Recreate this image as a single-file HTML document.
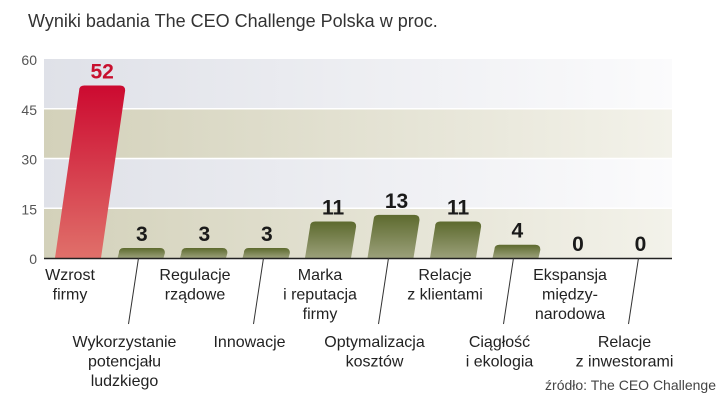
<!DOCTYPE html>
<html><head><meta charset="utf-8"><style>
body{margin:0;background:#fff;}
svg{display:block;font-family:"Liberation Sans",sans-serif;}
</style></head><body>
<svg width="720" height="408" viewBox="0 0 720 408">
<defs>
<linearGradient id="gBlue" x1="0" x2="1"><stop offset="0" stop-color="#dfe1e8"/><stop offset="1" stop-color="#fbfbfc"/></linearGradient>
<linearGradient id="gTan" x1="0" x2="1"><stop offset="0" stop-color="#d3d1ba"/><stop offset="1" stop-color="#f3f2ea"/></linearGradient>
<linearGradient id="gRed" x1="0" x2="0" y1="0" y2="1"><stop offset="0" stop-color="#cc0a30"/><stop offset="1" stop-color="#e0706a"/></linearGradient>
<linearGradient id="gOl" x1="0" x2="0" y1="0" y2="1"><stop offset="0" stop-color="#5d6a2e"/><stop offset="1" stop-color="#9ba07a"/></linearGradient>
</defs>
<text x="28" y="27" font-size="18" fill="#333">Wyniki badania The CEO Challenge Polska w proc.</text>
<g id="bands"></g>
<g id="yticks"></g>
<g id="bars"></g>
<line x1="44" y1="258.5" x2="672" y2="258.5" stroke="#222" stroke-width="1.5"/>
<g id="labels"></g>
<text x="716" y="390" font-size="14" fill="#444" text-anchor="end">źródło: The CEO Challenge</text>
</svg>
<script>
const categories=[["Wzrost","firmy"],["Wykorzystanie","potencjału","ludzkiego"],["Regulacje","rządowe"],["Innowacje"],["Marka","i reputacja","firmy"],["Optymalizacja","kosztów"],["Relacje","z klientami"],["Ciągłość","i ekologia"],["Ekspansja","między-","narodowa"],["Relacje","z inwestorami"]];
const values=[52,3,3,3,11,13,11,4,0,0];
const yTicks=[0,15,30,45,60];
const NS="http://www.w3.org/2000/svg";
const x0=44,x1=672,yB=258,yT=59;
function y(v){return yB-(yB-yT)*v/60;}
function cx(i){return 78+62.5*i;}
function mk(t,a,p){const e=document.createElementNS(NS,t);for(const k in a)e.setAttribute(k,a[k]);p.appendChild(e);return e;}
const bands=document.getElementById('bands');
for(let k=0;k<yTicks.length-1;k++){
 const r=mk('rect',{x:x0,y:y(yTicks[k+1]),width:x1-x0,height:y(yTicks[k])-y(yTicks[k+1]),fill:k%2==0?'url(#gTan)':'url(#gBlue)'},bands);
 
 
}
const yt=document.getElementById('yticks');
yTicks.forEach(v=>{
 if(v>0&&v<60){const l=mk('line',{x1:x0,x2:x1,y1:y(v),y2:y(v),stroke:'#fff','stroke-width':1.5},yt);
 
 }
 const t=mk('text',{x:37,y:y(v)+6,'font-size':14,fill:'#555','text-anchor':'end'},yt);t.textContent=v;
 
 
});
const bars=document.getElementById('bars');
const labels=document.getElementById('labels');
values.forEach((v,i)=>{
 const c=cx(i),w=46,top=y(v),h=yB-top,sk=h*0.14;
 if(v>0){
  const bl=c-w/2,br=c+w/2,tl=bl+sk,tr=br+sk,r=Math.min(5,h/2);
  const d=`M${bl},${yB} L${tl},${top+r} Q${tl},${top} ${tl+r},${top} L${tr-r},${top} Q${tr},${top} ${tr},${top+r} L${br},${yB} Z`;
  const p=mk('path',{d:d,fill:i==0?'url(#gRed)':'url(#gOl)'},bars);
  
  
 }
 const vt=mk('text',{x:c+sk,y:top-7,'font-size':21,'font-weight':'bold','text-anchor':'middle',fill:i==0?'#c8102e':'#1a1a1a'},bars);
 vt.textContent=v;
 
 
 const lower=i%2==1;
 const lx=lower?c-16:c-8, ly=lower?347:280;
 const g=mk('text',{'font-size':16,fill:'#222','text-anchor':'middle'},labels);
 
 
 categories[i].forEach((s,j)=>{const ts=mk('tspan',{x:lx,y:ly+j*19.5},g);ts.textContent=s;});
 if(lower){const ln=mk('line',{x1:c-2,y1:yB,x2:c-12,y2:324,stroke:'#333','stroke-width':1},labels);
  
  }
});
</script>
</body></html>
